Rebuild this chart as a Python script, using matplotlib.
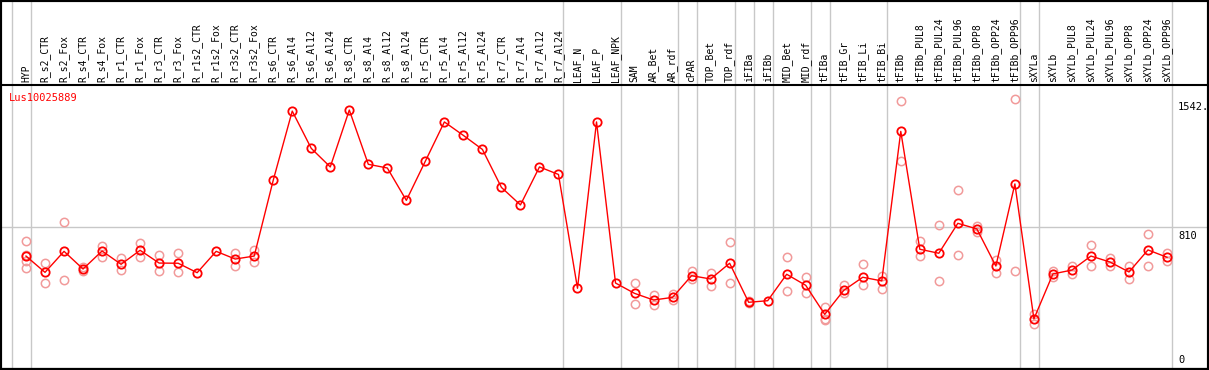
import matplotlib.pyplot as plt
from matplotlib.patches import Rectangle
from matplotlib.transforms import blended_transform_factory

gene = 'Lus10025889'

samples = ['HYP', 'R_s2_CTR', 'R_s2_Fox', 'R_s4_CTR', 'R_s4_Fox', 'R_r1_CTR', 'R_r1_Fox',
           'R_r3_CTR', 'R_r3_Fox', 'R_r1s2_CTR', 'R_r1s2_Fox', 'R_r3s2_CTR', 'R_r3s2_Fox',
           'R_s6_CTR', 'R_s6_Al4', 'R_s6_Al12', 'R_s6_Al24', 'R_s8_CTR', 'R_s8_Al4',
           'R_s8_Al12', 'R_s8_Al24', 'R_r5_CTR', 'R_r5_Al4', 'R_r5_Al12', 'R_r5_Al24',
           'R_r7_CTR', 'R_r7_Al4', 'R_r7_Al12', 'R_r7_Al24', 'LEAF_N', 'LEAF_P', 'LEAF_NPK',
           'SAM', 'AR_Bet', 'AR_rdf', 'cPAR', 'TOP_Bet', 'TOP_rdf', 'iFIBa', 'iFIBb',
           'MID_Bet', 'MID_rdf', 'tFIBa', 'tFIB_Gr', 'tFIB_Li', 'tFIB_Bi', 'tFIBb',
           'tFIBb_PUL8', 'tFIBb_PUL24', 'tFIBb_PUL96', 'tFIBb_OPP8', 'tFIBb_OPP24',
           'tFIBb_OPP96', 'sXYLa', 'sXYLb', 'sXYLb_PUL8', 'sXYLb_PUL24', 'sXYLb_PUL96',
           'sXYLb_OPP8', 'sXYLb_OPP24', 'sXYLb_OPP96']

# mean expression per sample
means = [645, 552, 672, 571, 674, 598, 678, 605, 604, 550, 672, 628, 645,
         1078, 1473, 1260, 1154, 1479, 1169, 1148, 963, 1187, 1411, 1334, 1254,
         1037, 937, 1154, 1111, 461, 1411, 491,
         432, 394, 409, 533, 514, 604, 381, 390, 541, 478, 312, 449, 524, 503,
         1357, 684, 661, 832, 800, 588, 1057,
         286, 543, 565, 645, 611, 554, 680, 638]

# replicate values (light circles)
reps = [[729, 650, 617, 575], [604, 489], [838, 508], [584, 558], [704, 641],
        [636, 564], [720, 638], [649, 558], [661, 552], [], [], [662, 590], [680, 609],
        [], [], [], [], [], [], [], [], [], [], [], [], [], [], [], [], [], [], [],
        [489, 374], [423, 367], [428, 394], [560, 512], [548, 476], [724, 489],
        [376, 386], [], [638, 445], [524, 432], [352, 287, 280], [480, 432],
        [598, 481], [531, 455], [1530, 1186], [729, 645], [821, 503], [1020, 649],
        [818, 784], [622, 546], [1542, 560], [312, 257], [560, 527], [590, 543],
        [708, 588], [632, 590], [590, 512], [771, 588], [664, 617]]

# samples after which a group separator is drawn
group_ends = [-1, 0, 28, 31, 34, 35, 37, 38, 39, 41, 42, 45, 52, 53, 60]

y_labels = [1542, 810, 0]
y_label_text = ['1542.', '810', '0']

W, H = 1209, 370
fig = plt.figure(figsize=(W / 100, H / 100), dpi=100)
head = 85
ax = fig.add_axes([0, 1 / H, 1, (H - head - 1) / H])

step = 19.017
ax.set_xlim(-26 / step, -26 / step + W / step)
ax.set_ylim(0, (369 - head) / 0.1751)

x = list(range(len(samples)))
rx, ry = [], []
for i, r in enumerate(reps):
    for v in r:
        rx.append(i)
        ry.append(v)
ax.plot(rx, ry, 'o', ms=6, mfc='none', mec='#f19a9a', mew=1.1, zorder=2)
ax.plot(x, means, '-', color='red', lw=1, zorder=3)
ax.plot(x, means, 'o', ms=6, mfc='none', mec='red', mew=1.3, zorder=4)

# grid lines
ax.axhline(810, color='#c8c8c8', lw=1, zorder=1)
top = H / (H - head - 1)
for g in group_ends:
    ax.axvline(g + 5 / step, ymin=0, ymax=top, color='#c8c8c8', lw=1, clip_on=False, zorder=1)

# sample labels in the header
trans = blended_transform_factory(ax.transData, ax.transAxes)
for i, s in enumerate(samples):
    ax.text(i, 1 + 3 / (H - head), s, rotation=90, ha='center', va='bottom',
            family='DejaVu Sans Mono', fontsize=7, transform=trans, clip_on=False)

ax.text(-0.88, 1578, gene, color='red', family='DejaVu Sans Mono', fontsize=7.5,
        ha='left', va='top')

for v, t in zip(y_labels, y_label_text):
    va = 'bottom' if v == 0 else 'top'
    yy = v + 20 if v == 0 else v - 20
    ax.text((1178 - 26) / step, yy, t, family='DejaVu Sans Mono', fontsize=7.5,
            ha='left', va=va)

ax.set_xticks([])
ax.set_yticks([])
for sp in ax.spines.values():
    sp.set_linewidth(1.5)

fig.add_artist(Rectangle((0, 0), 1, 1, transform=fig.transFigure, fill=False,
                         ec='black', lw=3))

plt.savefig('out.png', dpi=100)
